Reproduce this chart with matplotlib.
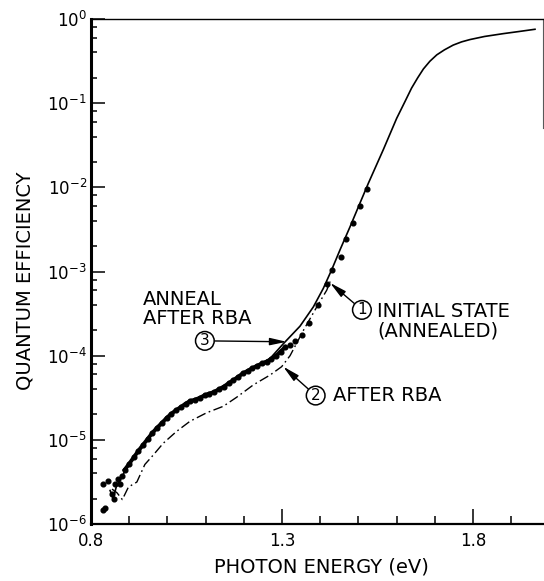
import numpy as np
import matplotlib
matplotlib.use("Agg")
import matplotlib.pyplot as plt
from matplotlib.ticker import LogLocator, MultipleLocator, FixedLocator, NullFormatter

# ---------------- data ----------------
# Curve 1: initial state (annealed) - solid
initial_E = [0.850, 0.858, 0.866, 0.880, 0.893, 0.920, 0.946, 0.972, 0.998, 1.033,
             1.077, 1.112, 1.146, 1.190, 1.225, 1.269, 1.303, 1.347, 1.382, 1.408,
             1.430, 1.452, 1.478, 1.504, 1.526, 1.565, 1.600, 1.622, 1.639, 1.655,
             1.670, 1.687, 1.705, 1.725, 1.748, 1.770, 1.792, 1.830, 1.879, 1.920,
             1.962]
initial_QE = [2.5e-6, 2.0e-6, 2.75e-6, 3.6e-6, 4.6e-6, 6.9e-6, 1.0e-5, 1.38e-5, 1.82e-5, 2.4e-5,
              3.1e-5, 3.6e-5, 4.2e-5, 5.75e-5, 7.2e-5, 9.3e-5, 1.38e-4, 2.24e-4, 3.8e-4, 6.3e-4,
              1.05e-3, 1.82e-3, 3.4e-3, 6.5e-3, 1.12e-2, 2.8e-2, 6.6e-2, 0.105, 0.151, 0.20,
              0.255, 0.315, 0.375, 0.43, 0.49, 0.535, 0.57, 0.62, 0.67, 0.71,
              0.755]

# Curve 2: after RBA - dash-dot
rba_E = [0.855, 0.868, 0.882, 0.898, 0.920, 0.941, 0.963, 0.989, 1.024, 1.059,
         1.103, 1.146, 1.181, 1.225, 1.269, 1.299, 1.321, 1.356, 1.391, 1.417, 1.426]
rba_QE = [2.6e-6, 2.35e-6, 1.95e-6, 2.75e-6, 3.15e-6, 5.1e-6, 6.6e-6, 9.1e-6, 1.26e-5, 1.66e-5,
          2.1e-5, 2.5e-5, 3.2e-5, 4.5e-5, 5.9e-5, 7.4e-5, 1.0e-4, 2.0e-4, 3.8e-4, 6.0e-4, 7.6e-4]

# Curve 3: anneal after RBA - data points
anneal_E = [0.832, 0.845, 0.854, 0.860, 0.837, 0.832, 0.862, 0.870, 0.876, 0.880,
            0.888, 0.900, 0.912, 0.924, 0.936, 0.948, 0.960, 0.972, 0.985, 0.998,
            1.010, 1.022, 1.035, 1.048, 1.060, 1.072, 1.085, 1.098, 1.110, 1.122,
            1.135, 1.148, 1.160, 1.172, 1.185, 1.198, 1.210, 1.222, 1.235, 1.248,
            1.260, 1.272, 1.285, 1.296, 1.308,
            1.321, 1.335, 1.351, 1.370, 1.393, 1.418, 1.432, 1.454, 1.468, 1.486,
            1.504, 1.522]
anneal_QE = [3.0e-6, 3.2e-6, 2.3e-6, 2.0e-6, 1.55e-6, 1.45e-6, 3.0e-6, 3.4e-6, 3.0e-6, 3.7e-6,
             4.4e-6, 5.2e-6, 6.2e-6, 7.4e-6, 8.7e-6, 1.02e-5, 1.2e-5, 1.38e-5, 1.58e-5, 1.82e-5,
             2.04e-5, 2.24e-5, 2.45e-5, 2.7e-5, 2.9e-5, 3.0e-5, 3.16e-5, 3.4e-5, 3.55e-5, 3.7e-5,
             4.0e-5, 4.3e-5, 4.7e-5, 5.1e-5, 5.6e-5, 6.2e-5, 6.6e-5, 7.1e-5, 7.6e-5, 8.1e-5,
             8.5e-5, 9.1e-5, 1.0e-4, 1.12e-4, 1.26e-4,
             1.35e-4, 1.5e-4, 1.78e-4, 2.45e-4, 4.0e-4, 7.2e-4, 1.05e-3, 1.5e-3, 2.4e-3, 3.8e-3,
             6.0e-3, 9.5e-3]

x_major_ticks = [0.8, 1.3, 1.8]
x_tick_labels = ["0.8", "1.3", "1.8"]

# ---------------- figure ----------------
plt.rcParams['font.family'] = ['DejaVu Sans']
fig = plt.figure(figsize=(5.44, 5.81), dpi=100)
ax = fig.add_axes([91/544, 1 - 524/581, 452/544, 505/581])

ax.set_yscale('log')
ax.set_xlim(0.8, 1.983)
ax.set_ylim(1e-6, 1e0)

# curves
ax.plot(initial_E, initial_QE, color='black', lw=1.2, solid_joinstyle='round')
ax.plot(rba_E, rba_QE, color='black', lw=1.0, linestyle=(0, (7, 2.5, 1.2, 2.5)))
aE = np.array(anneal_E)
aQ = np.array(anneal_QE)
band = (aE >= 0.885) & (aE <= 1.31)
ax.plot(aE[band], aQ[band], color='black', lw=2.8, solid_joinstyle='round')
ax.plot(aE, aQ, linestyle='none', marker='o', ms=3.4, color='black')

# spines
for s in ['left', 'bottom', 'top']:
    ax.spines[s].set_color('black')
ax.spines['left'].set_linewidth(2.2)
ax.spines['bottom'].set_linewidth(1.6)
ax.spines['top'].set_linewidth(1.0)
ax.spines['right'].set_visible(False)
ax.plot([1, 1], [1, 1 - (128 - 19) / 505], transform=ax.transAxes, color='0.35',
        lw=0.8, clip_on=False)

# ticks
ax.xaxis.set_major_locator(FixedLocator(x_major_ticks))
ax.set_xticklabels(x_tick_labels)
ax.xaxis.set_minor_locator(MultipleLocator(0.1))
ax.xaxis.set_minor_formatter(NullFormatter())
ax.yaxis.set_major_locator(LogLocator(base=10, numticks=10))
ax.yaxis.set_minor_locator(LogLocator(base=10, subs=[2, 4, 6, 8], numticks=10))
ax.yaxis.set_minor_formatter(NullFormatter())
ax.tick_params(which='both', direction='in', top=False, right=False, color='black', width=1.1)
ax.tick_params(axis='y', which='major', length=10, pad=3, labelsize=12)
ax.tick_params(axis='y', which='minor', length=4.3)
ax.tick_params(axis='x', which='major', length=10.5, pad=6, labelsize=12)
ax.tick_params(axis='x', which='minor', length=5.8)

# axis labels
ax.set_xlabel('PHOTON ENERGY (eV)', fontsize=14)
ax.xaxis.label.set_va('center')
ax.xaxis.set_label_coords((321 - 91) / 452, (524 - 567) / 505)
ax.set_ylabel('QUANTUM EFFICIENCY', fontsize=14)
ax.yaxis.label.set_va('center')
ax.yaxis.set_label_coords((25 - 91) / 452, (524 - 281) / 505)

# annotations
circ = dict(boxstyle='circle,pad=0.12', fc='white', ec='black', lw=1.1)
arrow = dict(arrowstyle='-|>,head_length=1.0,head_width=0.22', color='black', lw=1.0,
             mutation_scale=10, shrinkA=0, shrinkB=0)

ax.text(0.936, 10**-3.444, 'ANNEAL\nAFTER RBA', fontsize=14, ha='left', va='center',
        linespacing=1.0)
ax.annotate('3', xy=(1.312, 10**-3.835), xytext=(1.098, 10**-3.824), fontsize=11,
            ha='center', va='center', bbox=circ, arrowprops=arrow)

ax.annotate('1', xy=(1.4257, 10**-3.135), xytext=(1.509, 10**-3.456), fontsize=11,
            ha='center', va='center', bbox=circ, arrowprops=arrow)
ax.text(1.549, 10**-3.59, 'INITIAL STATE\n(ANNEALED)', fontsize=14, ha='left', va='center',
        linespacing=1.05)

ax.annotate('2', xy=(1.303, 10**-4.13), xytext=(1.388, 10**-4.474), fontsize=11,
            ha='center', va='center', bbox=circ, arrowprops=arrow)
ax.text(1.4335, 10**-4.474, 'AFTER RBA', fontsize=14, ha='left', va='center')

fig.savefig('out.png', dpi=100)
